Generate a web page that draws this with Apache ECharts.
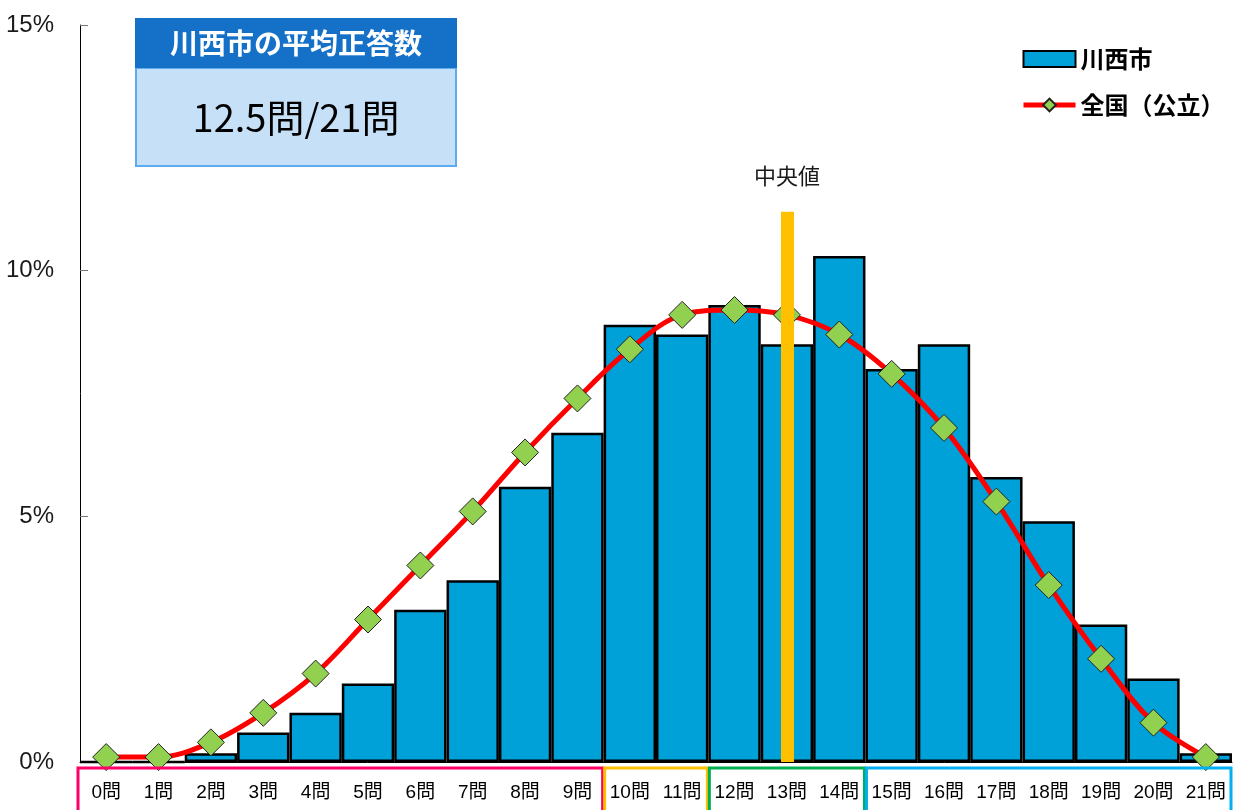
<!DOCTYPE html>
<html>
<head>
<meta charset="utf-8">
<script src="https://cdn.jsdelivr.net/npm/echarts@6/dist/echarts.min.js"></script>
<style>
  html, body { margin: 0; padding: 0; background: #fff; }
  #chart { width: 1244px; height: 810px; }
</style>
</head>
<body>
<div id="chart"></div>
<script>
// 正答数ごとの分布
const categories = ['0問', '1問', '2問', '3問', '4問', '5問', '6問', '7問', '8問', '9問', '10問',
  '11問', '12問', '13問', '14問', '15問', '16問', '17問', '18問', '19問', '20問', '21問'];
const kawanishi = [0, 0, 0.18, 0.6, 1.0, 1.6, 3.1, 3.7, 5.6, 6.7, 8.9,
  8.7, 9.3, 8.5, 10.3, 8.0, 8.5, 5.8, 4.9, 2.8, 1.7, 0.18];
const zenkoku = [0.1, 0.1, 0.4, 1.0, 1.8, 2.9, 4.0, 5.1, 6.3, 7.4, 8.4,
  9.1, 9.2, 9.1, 8.7, 7.9, 6.8, 5.3, 3.6, 2.1, 0.8, 0.1];
const yTicks = [0, 5, 10, 15];
const medianCat = '13問';
const medianTop = 11.2;
// 下の枠（開始, 終了, 色）
const groupStart = [0, 10, 12, 15];
const groupEnd = [9, 11, 14, 21];
const groupColor = ['#FF0066', '#FFC000', '#00B050', '#00B0F0'];

const chartDom = document.getElementById('chart');
const myChart = echarts.init(chartDom);

const option = {
  animation: false,
  grid: { left: 80, right: 12, top: 25, bottom: 48 },
  legend: {
    orient: 'vertical',
    left: 1016,
    top: 42,
    itemWidth: 52,
    itemHeight: 16,
    itemGap: 22,
    textStyle: { fontSize: 24, fontWeight: 'bold', color: '#000', fontFamily: 'Noto Sans CJK JP' },
    data: [
      { name: '川西市', icon: 'rect', itemStyle: { borderColor: '#000', borderWidth: 2 } },
      { name: '全国（公立）', lineStyle: { color: '#FF0000', width: 5 } }
    ]
  },
  xAxis: {
    type: 'category',
    data: categories,
    axisLine: { lineStyle: { color: '#000', width: 1 } },
    axisTick: { show: false },
    axisLabel: {
      margin: 21,
      fontSize: 19,
      color: '#000',
      interval: 0,
      fontFamily: 'Liberation Sans, Noto Sans CJK JP'
    }
  },
  yAxis: {
    type: 'value',
    min: 0,
    max: 15,
    interval: 5,
    axisLine: { show: true, lineStyle: { color: '#000', width: 1 } },
    axisTick: { show: true, inside: true, length: 8, lineStyle: { color: '#777' } },
    splitLine: { show: false },
    axisLabel: {
      margin: 26,
      fontSize: 24,
      color: '#1a1a1a',
      fontFamily: 'Liberation Sans',
      formatter: v => (yTicks.includes(v) ? v + '%' : '')
    }
  },
  series: [
    {
      name: '川西市',
      type: 'bar',
      data: kawanishi,
      barCategoryGap: '0%',
      itemStyle: { color: '#00A0D8', borderColor: '#000', borderWidth: 2.5 },
      z: 2
    },
    {
      name: '全国（公立）',
      type: 'line',
      data: zenkoku,
      smooth: 0.35,
      symbol: 'diamond',
      symbolSize: 27,
      lineStyle: { color: '#FF0000', width: 5 },
      itemStyle: { color: '#92D050', borderColor: '#222', borderWidth: 1 },
      z: 3
    },
    {
      name: '中央値',
      type: 'line',
      data: [],
      z: 10,
      markLine: {
        silent: true,
        symbol: 'none',
        lineStyle: { color: '#FFC000', width: 13, type: 'solid', cap: 'butt' },
        label: {
          show: true,
          position: 'end',
          distance: 25,
          formatter: '中央値',
          fontSize: 22,
          color: '#1a1a1a',
          fontFamily: 'Noto Sans CJK JP'
        },
        data: [[{ coord: [medianCat, 0] }, { coord: [medianCat, medianTop] }]]
      }
    }
  ]
};

myChart.setOption(option);

// 下のカテゴリ枠と平均正答数の箱
const half = myChart.convertToPixel({ xAxisIndex: 0 }, categories[1]) - myChart.convertToPixel({ xAxisIndex: 0 }, categories[0]);
const boxes = groupStart.map((s, i) => {
  const x0 = myChart.convertToPixel({ xAxisIndex: 0 }, categories[s]) - half / 2 + 1;
  const x1 = myChart.convertToPixel({ xAxisIndex: 0 }, categories[groupEnd[i]]) + half / 2 - 1;
  return {
    type: 'rect',
    shape: { x: i === 0 ? x0 - 3 : x0, y: 768, width: x1 - x0 + (i === 0 ? 3 : 0), height: 50 },
    style: { fill: 'none', stroke: groupColor[i], lineWidth: 3 },
    z: 5
  };
});

myChart.setOption({
  graphic: boxes.concat([
    {
      type: 'rect',
      shape: { x: 136, y: 68, width: 320, height: 98 },
      style: { fill: '#C6E0F8', stroke: '#5DAAEE', lineWidth: 2 },
      z: 20
    },
    {
      type: 'rect',
      shape: { x: 135, y: 18, width: 322, height: 50 },
      style: { fill: '#1570C8' },
      z: 21
    },
    {
      type: 'text',
      x: 296,
      y: 43,
      style: {
        text: '川西市の平均正答数',
        fill: '#fff',
        font: 'bold 28px "Noto Sans CJK JP"',
        align: 'center',
        verticalAlign: 'middle'
      },
      z: 22
    },
    {
      type: 'text',
      x: 296,
      y: 118,
      style: {
        text: '12.5問/21問',
        fill: '#000',
        font: '38px "Noto Sans CJK JP"',
        align: 'center',
        verticalAlign: 'middle'
      },
      z: 22
    }
  ])
});
</script>
</body>
</html>
